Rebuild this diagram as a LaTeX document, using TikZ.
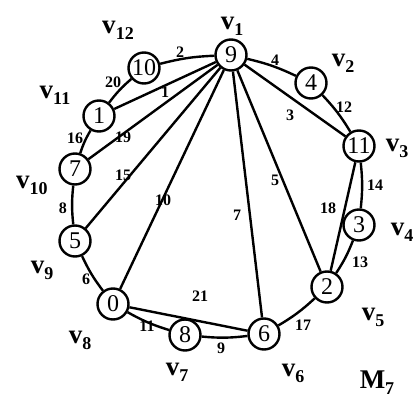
\documentclass[tikz,border=0pt]{standalone}
\usepackage{fontspec}
\setmainfont{Liberation Serif}
\newcommand{\vl}[1]{v\raisebox{-0.5ex}{\fontsize{18}{18}\selectfont\bfseries #1}}
\begin{document}
\begin{tikzpicture}[x=1pt,y=-1pt,
  vtx/.style={circle,draw,line width=2.4pt,minimum size=31pt,inner sep=0pt,font=\fontsize{24}{24}\selectfont},
  edge/.style={line width=2.4pt},
  cyc/.style={line width=2.4pt,bend left=6},
  elab/.style={font=\fontsize{16}{16}\selectfont\bfseries,inner sep=0pt},
  vlab/.style={font=\fontsize{27}{27}\selectfont\bfseries,inner sep=0pt}]
\useasboundingbox (0,0) rectangle (416,415);
% vertices
\node[vtx] (v1) at (231,55) {9};
\node[vtx] (v2) at (311,83) {4};
\node[vtx] (v3) at (359,146) {11};
\node[vtx] (v4) at (359,225) {3};
\node[vtx] (v5) at (327,287) {2};
\node[vtx] (v6) at (264,334) {6};
\node[vtx] (v7) at (185,335) {8};
\node[vtx] (v8) at (113,304) {0};
\node[vtx] (v9) at (75,241) {5};
\node[vtx] (v10) at (75,169) {7};
\node[vtx] (v11) at (99,116) {1};
\node[vtx] (v12) at (144,68) {10};
% cycle edges
\draw[cyc] (v1) to (v2);
\draw[cyc] (v2) to (v3);
\draw[cyc] (v3) to (v4);
\draw[cyc] (v4) to (v5);
\draw[cyc] (v5) to (v6);
\draw[cyc] (v6) to (v7);
\draw[cyc] (v7) to (v8);
\draw[cyc] (v8) to (v9);
\draw[cyc] (v9) to (v10);
\draw[cyc] (v10) to (v11);
\draw[cyc] (v11) to (v12);
\draw[cyc] (v12) to (v1);
% chords
\draw[edge] (v1) -- (v3);
\draw[edge] (v1) -- (v5);
\draw[edge] (v1) -- (v6);
\draw[edge] (v1) -- (v8);
\draw[edge] (v1) -- (v9);
\draw[edge] (v1) -- (v10);
\draw[edge] (v1) -- (v11);
\draw[edge] (v3) -- (v5);
\draw[edge] (v8) -- (v6);
% edge labels
\node[elab] (e2) at (180,52) {2};
\node[elab] (e4) at (275,60) {4};
\node[elab] (e12) at (344,107) {12};
\node[elab] (e3) at (290,115) {3};
\node[elab] (e14) at (375,185) {14};
\node[elab] (e5) at (275,180) {5};
\node[elab] (e18) at (328,208) {18};
\node[elab] (e13) at (360,262) {13};
\node[elab] (e7) at (237,215) {7};
\node[elab] (e17) at (303,325) {17};
\node[elab] (e9) at (221,348) {9};
\node[elab] (e21) at (200,296) {21};
\node[elab] (e11) at (147,326) {11};
\node[elab] (e10) at (163,200) {10};
\node[elab] (e6) at (86,279) {6};
\node[elab] (e8) at (63,208) {8};
\node[elab] (e15) at (123,175) {15};
\node[elab] (e19) at (123,137) {19};
\node[elab] (e16) at (75,138) {16};
\node[elab] (e1) at (165,92) {1};
\node[elab] (e20) at (113,82) {20};
% vertex labels
\node[vlab] (l1) at (232,26) {\vl{1}};
\node[vlab] (l2) at (343,63) {\vl{2}};
\node[vlab] (l3) at (397,148) {\vl{3}};
\node[vlab] (l4) at (402,232) {\vl{4}};
\node[vlab] (l5) at (373,317) {\vl{5}};
\node[vlab] (l6) at (293,373) {\vl{6}};
\node[vlab] (l7) at (177,372) {\vl{7}};
\node[vlab] (l8) at (80,340) {\vl{8}};
\node[vlab] (l9) at (42,270) {\vl{9}};
\node[vlab] (l10) at (32,185) {\vl{10}};
\node[vlab] (l11) at (55,95) {\vl{11}};
\node[vlab] (l12) at (118,30) {\vl{12}};
\node[vlab] (m7) at (377,383) {M\raisebox{-0.5ex}{\fontsize{18}{18}\selectfont\bfseries 7}};
\end{tikzpicture}
\end{document}
